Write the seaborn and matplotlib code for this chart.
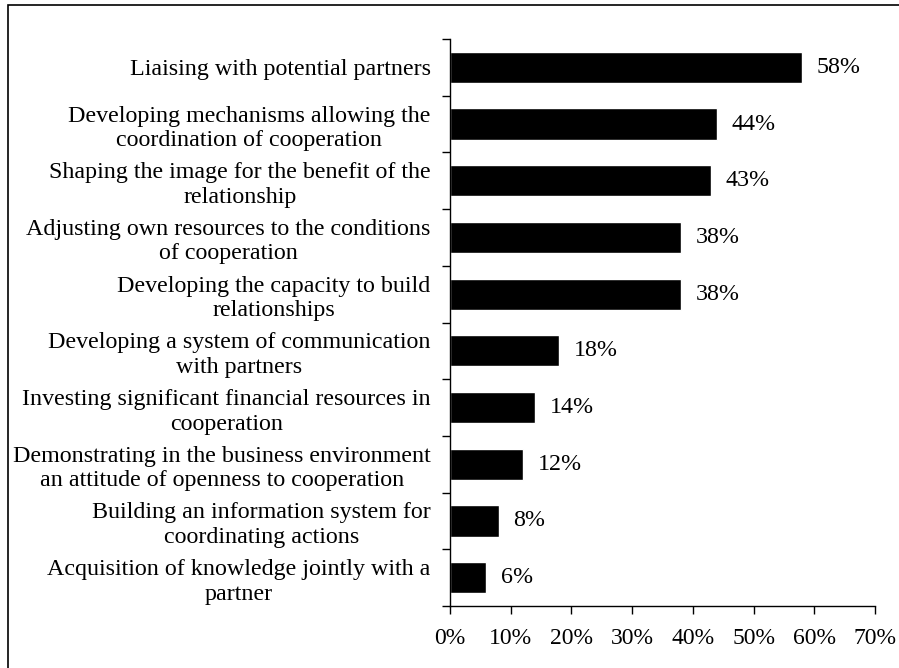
import matplotlib
matplotlib.use("Agg")
import matplotlib.pyplot as plt
import seaborn as sns
import pandas as pd
from matplotlib.patches import Rectangle
from matplotlib.ticker import FixedLocator, PercentFormatter

categories = [
    "Liaising with potential partners",
    "Developing mechanisms allowing the\ncoordination of cooperation",
    "Shaping the image for the benefit of the\nrelationship",
    "Adjusting own resources to the conditions\nof cooperation",
    "Developing the capacity to build\nrelationships",
    "Developing a system of communication\nwith partners",
    "Investing significant financial resources in\ncooperation",
    "Demonstrating in the business environment\nan attitude of openness to cooperation",
    "Building an information system for\ncoordinating actions",
    "Acquisition of knowledge jointly with a\npartner",
]
values = [58, 44, 43, 38, 38, 18, 14, 12, 8, 6]

df = pd.DataFrame({"activity": categories, "share": values})

sns.set_style("white")
plt.rcParams["font.family"] = ["Liberation Serif", "DejaVu Serif"]
plt.rcParams["font.size"] = 17.3
plt.rcParams["text.color"] = "black"
plt.rcParams["xtick.color"] = "black"
plt.rcParams["ytick.color"] = "black"

fig = plt.figure(figsize=(8.99, 6.68), dpi=100)
ax = fig.add_axes([0.5006, 0.0928, 0.4727, 0.8488])

sns.barplot(data=df, x="share", y="activity", orient="h", color="black",
            width=0.55, saturation=1, ax=ax)

for i, v in enumerate(values):
    ax.text(v + 2.4, i, f"{v}%", va="center", ha="left", fontsize=17.3, color="black")

ax.set_xlim(0, 70)
ax.set_ylim(len(categories) - 0.5, -0.5)
ax.set_xticks(range(0, 71, 10))
ax.xaxis.set_major_formatter(PercentFormatter(decimals=0))
ax.set_xlabel("")
ax.set_ylabel("")

# category labels at centres, tick marks at boundaries
ax.tick_params(axis="y", which="major", length=0, pad=14, labelsize=17.3)
ax.yaxis.set_minor_locator(FixedLocator([i - 0.5 for i in range(len(categories) + 1)]))
ax.tick_params(axis="y", which="minor", length=6, width=1, color="black", direction="out", left=True)
ax.tick_params(axis="x", length=6, width=1, color="black", direction="out", bottom=True, pad=10,
               labelsize=17)
for lab in ax.get_yticklabels():
    lab.set_multialignment("center")
    lab.set_linespacing(1.22)

for side in ["top", "right"]:
    ax.spines[side].set_visible(False)
for side in ["left", "bottom"]:
    ax.spines[side].set_color("black")
    ax.spines[side].set_linewidth(1)

# frame around the figure, cut off at the right and bottom
fig.add_artist(Rectangle((8 / 899, -0.05), 1.2, 1 - 5 / 668 + 0.05, transform=fig.transFigure,
                         fill=False, edgecolor="black", linewidth=1.2))

fig.savefig("out.png", dpi=100)
